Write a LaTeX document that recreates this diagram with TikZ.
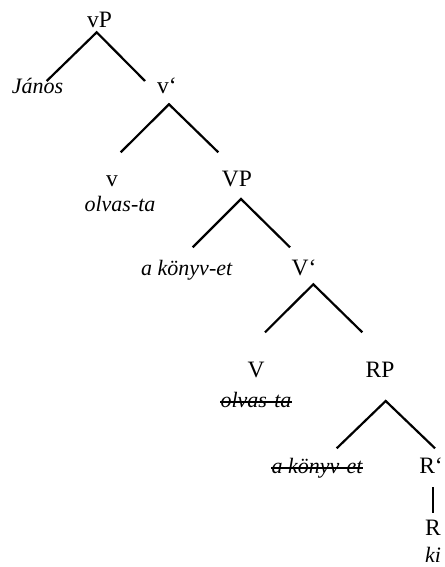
\documentclass[tikz,border=0pt]{standalone}
\usepackage{fontspec}
\setmainfont{Liberation Serif}
\begin{document}
\begin{tikzpicture}[x=1pt,y=-1pt,
  lbl/.style={anchor=base,inner sep=0pt,font=\fontsize{23.5}{27}\selectfont},
  word/.style={lbl,font=\fontsize{22}{26}\selectfont\itshape},
  branch/.style={line width=2.2pt,line cap=butt,line join=miter},
  strike/.style={line width=1.3pt}]
\useasboundingbox (0,0) rectangle (444,567);

% labels
\node[lbl]  (vP)    at (99.5,28)  {vP};
\node[word] (janos) at (37.5,94)  {János};
\node[lbl]  (vbar)  at (167,94)   {v‘};
\node[lbl]  (v)     at (112,186)  {v};
\node[word] (olv1)  at (120,211)  {olvas-ta};
\node[lbl]  (VP)    at (237,186)  {VP};
\node[word] (kon1)  at (186.7,275) {a könyv-et};
\node[lbl]  (Vbar)  at (304,275)  {V‘};
\node[lbl]  (V)     at (256,377)  {V};
\node[word] (olv2)  at (256,407)  {olvas-ta};
\node[lbl]  (RP)    at (380,377)  {RP};
\node[word] (kon2)  at (317,473)  {a könyv-et};
\node[lbl]  (Rbar)  at (431,473)  {R‘};
\node[lbl]  (R)     at (433,535)  {R};
\node[word] (ki)    at (433,562)  {ki};

% struck-through copies
\draw[strike] ([yshift=5pt]olv2.base west) -- ([yshift=5pt]olv2.base east);
\draw[strike] ([yshift=5pt]kon2.base west) -- ([yshift=5pt]kon2.base east);

% branch points
\coordinate (vP-a) at (96.7,32.3);  \coordinate (vP-l) at (46.7,81);   \coordinate (vP-r) at (145,81);
\coordinate (vb-a) at (169,104.3);  \coordinate (vb-l) at (120.7,152.3); \coordinate (vb-r) at (218.3,152.3);
\coordinate (VP-a) at (241,199);    \coordinate (VP-l) at (192.7,247.3); \coordinate (VP-r) at (290,247.3);
\coordinate (Vb-a) at (313.3,284.3);\coordinate (Vb-l) at (265,332.3);   \coordinate (Vb-r) at (362.3,332.3);
\coordinate (RP-a) at (385.7,401);  \coordinate (RP-l) at (336.7,448.3); \coordinate (RP-r) at (435,448.3);
\coordinate (Rb-t) at (433,487);    \coordinate (Rb-b) at (433,513);

\draw[branch] (vP-l) -- (vP-a) -- (vP-r);
\draw[branch] (vb-l) -- (vb-a) -- (vb-r);
\draw[branch] (VP-l) -- (VP-a) -- (VP-r);
\draw[branch] (Vb-l) -- (Vb-a) -- (Vb-r);
\draw[branch] (RP-l) -- (RP-a) -- (RP-r);
\draw[branch] (Rb-t) -- (Rb-b);
\end{tikzpicture}
\end{document}
